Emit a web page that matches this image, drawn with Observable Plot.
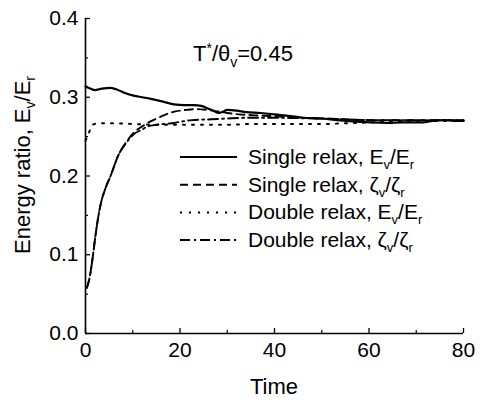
<!DOCTYPE html>
<html><head><meta charset="utf-8">
<script src="https://cdn.jsdelivr.net/npm/d3@7"></script>
<script src="https://cdn.jsdelivr.net/npm/@observablehq/plot@0.6"></script>
<style>body{margin:0;background:#fff} #chart{position:relative;width:488px;height:404px}</style>
</head><body><div id="chart"></div>
<script>
const xTicks = [0, 20, 40, 60, 80];
const xMinor = [10, 30, 50, 70];
const yTicks = [0, 0.1, 0.2, 0.3, 0.4];
const yMinor = [0.05, 0.15, 0.25, 0.35];

// [time, ratio]
const singleRelaxEv = [[0,0.314],[1,0.311],[2,0.309],[3.5,0.311],[5.3,0.312],[7,0.309],[8.5,0.305],[10.2,0.302],[12,0.300],[13.8,0.298],[16,0.295],[18.7,0.291],[21,0.290],[22.9,0.290],[24.5,0.289],[25.8,0.286],[27,0.283],[28.2,0.280],[29.2,0.282],[30,0.284],[32,0.283],[34,0.281],[37,0.280],[40.6,0.278],[43.4,0.276],[46.2,0.274],[49.7,0.273],[53.3,0.271],[57.5,0.269],[60.5,0.268],[63.9,0.2675],[67,0.268],[70.9,0.268],[73.5,0.270],[75.8,0.271],[78,0.270],[80,0.270]];
const singleRelaxZeta = [[0.3,0.058],[0.9,0.072],[1.6,0.100],[2.1,0.124],[3.2,0.164],[4.2,0.184],[5.3,0.200],[7,0.227],[8.5,0.242],[10.2,0.255],[12,0.263],[14,0.270],[15.5,0.274],[17.3,0.279],[19,0.282],[21.4,0.284],[23.5,0.285],[25.7,0.284],[28,0.282],[30,0.280],[33,0.278],[36,0.277],[40,0.276],[45,0.274],[50,0.273],[55,0.272],[60,0.271],[70,0.271],[80,0.271]];
const doubleRelaxEv = [[0,0.245],[0.6,0.253],[1.5,0.265],[3,0.267],[6,0.267],[10,0.266],[15,0.265],[20,0.265],[25,0.265],[30,0.265],[35,0.266],[40,0.266],[45,0.266],[50,0.266],[55,0.267],[60,0.268],[65,0.269],[70,0.270],[75,0.270],[80,0.270]];
const doubleRelaxZeta = [[0.3,0.058],[0.9,0.072],[1.6,0.100],[2.1,0.124],[3.2,0.164],[4.2,0.184],[5.3,0.200],[7,0.227],[8.5,0.241],[10.2,0.253],[12,0.259],[13,0.2625],[15,0.265],[18.2,0.267],[22.5,0.271],[26.7,0.272],[30,0.273],[35,0.274],[40,0.274],[45,0.2735],[50,0.273],[55,0.272],[60,0.271],[70,0.271],[80,0.271]];

const legendRows = [
  {prefix: "Single relax, ", sym: "E", dash: null},
  {prefix: "Single relax, ", sym: "ζ", dash: "8,5"},
  {prefix: "Double relax, ", sym: "E", dash: "2,7"},
  {prefix: "Double relax, ", sym: "ζ", dash: "10,4,2,4"}
];
const seriesStyles = [
  {data: singleRelaxEv, dash: null, w: 2.2},
  {data: singleRelaxZeta, dash: "8,5", w: 1.9},
  {data: doubleRelaxEv, dash: "2,7", w: 2},
  {data: doubleRelaxZeta, dash: "10,4,2,4", w: 1.9}
];

const W = 488, H = 404, mL = 85, mR = 25, mT = 18, mB = 71;
const pw = W - mL - mR, ph = H - mT - mB;
const FONT = '"Liberation Sans", Arial, Helvetica, sans-serif';

const chart = Plot.plot({
  width: W, height: H,
  marginLeft: mL, marginRight: mR, marginTop: mT, marginBottom: mB,
  style: {fontFamily: FONT, fontSize: "21px", background: "#fff", color: "#000", overflow: "visible"},
  x: {domain: [0, 80]},
  y: {domain: [0, 0.4]},
  marks: [
    Plot.axisX({ticks: xTicks, tickSize: 0, tickPadding: 9, label: null, fontSize: 21}),
    Plot.axisY({ticks: yTicks, tickSize: 0, tickPadding: 7, tickFormat: d3.format(".1f"), label: null, fontSize: 21}),
    Plot.tickX(xTicks, {x: d => d, insetTop: ph - 5, strokeWidth: 1.3}),
    Plot.tickX(xMinor, {x: d => d, insetTop: ph - 3, strokeWidth: 1.2}),
    Plot.tickY(yTicks, {y: d => d, insetRight: pw - 5, strokeWidth: 1.3}),
    Plot.tickY(yMinor, {y: d => d, insetRight: pw - 3, strokeWidth: 1.2}),
    ...seriesStyles.map(s => Plot.line(s.data, {x: d => d[0], y: d => d[1], stroke: "#000", strokeWidth: s.w, strokeDasharray: s.dash, curve: "monotone-x"})),
    Plot.ruleX([0], {strokeWidth: 1.6}),
    Plot.ruleY([0], {strokeWidth: 1.6})
  ]
});
document.getElementById("chart").appendChild(chart);

const svg = d3.select(chart);
function sub(t, s, size, shift) {
  t.append("tspan").attr("font-size", size).attr("dy", shift).text(s);
}
function txt(x, y, size, anchor) {
  return svg.append("text").attr("x", x).attr("y", y).attr("font-size", size)
    .attr("font-family", FONT).attr("fill", "#000").attr("text-anchor", anchor);
}
// y-axis title
const yt = svg.append("text").attr("transform", "translate(30,165) rotate(-90)")
  .attr("text-anchor", "middle").attr("font-size", 22).attr("font-family", FONT).attr("fill", "#000");
yt.append("tspan").text("Energy ratio, E");
sub(yt, "v", 14, 5);
yt.append("tspan").attr("dy", -5).text("/E");
sub(yt, "r", 14, 5);

// x-axis title
txt(mL + pw / 2, 394, 22, "middle").text("Time");

// annotation
const an = txt(193, 61, 22, "start");
an.append("tspan").text("T");
sub(an, "*", 14, -8);
an.append("tspan").attr("dy", 8).text("/θ");
sub(an, "v", 14, 6);
an.append("tspan").attr("dy", -6).text("=0.45");

// legend
const ly0 = 157, lstep = 27.7;
legendRows.forEach((r, i) => {
  const y = ly0 + i * lstep;
  svg.append("line").attr("x1", 180).attr("x2", 237).attr("y1", y).attr("y2", y)
    .attr("stroke", "#000").attr("stroke-width", 2).attr("stroke-dasharray", r.dash);
  const t = txt(248, y + 7, 21, "start");
  t.append("tspan").text(r.prefix + r.sym);
  sub(t, "v", 13, 5);
  t.append("tspan").attr("dy", -5).text("/" + r.sym);
  sub(t, "r", 13, 5);
});
</script></body></html>
